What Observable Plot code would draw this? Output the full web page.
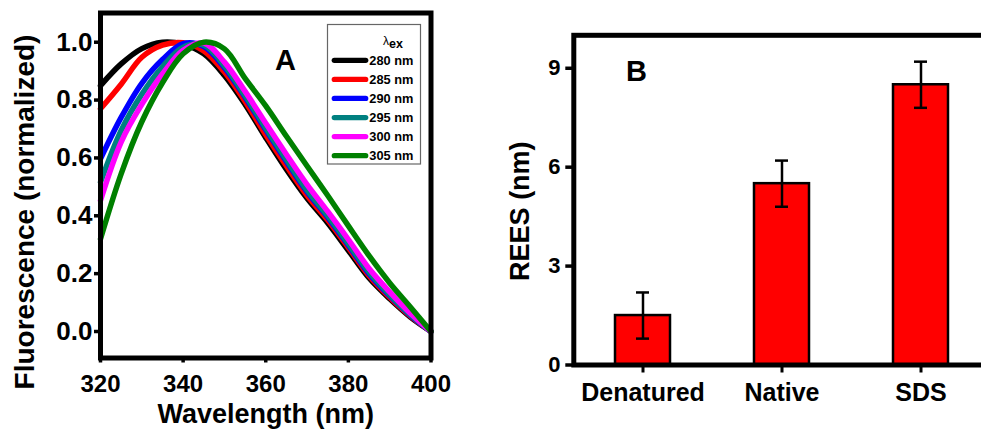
<!DOCTYPE html>
<html><head><meta charset="utf-8">
<script src="https://cdn.jsdelivr.net/npm/d3@7"></script>
<script src="https://cdn.jsdelivr.net/npm/@observablehq/plot@0.6"></script>
<style>
html,body{margin:0;padding:0;background:#fff;overflow:hidden;}
#wrap{position:relative;width:981px;height:430px;overflow:hidden;background:#fff;}
#wrap svg{position:absolute;top:0;max-width:none;background:transparent;}
</style></head><body><div id="wrap"></div>
<script>
// ---- Panel A data ----
const wavelengths = [320,325,330,335,340,345,350,355,360,365,370,375,380,385,390,395,400];
const exLabels = ["280 nm","285 nm","290 nm","295 nm","300 nm","305 nm"];
const exColors = ["#000000","#FF0000","#0000FF","#008080","#FF00FF","#008000"];
const ex280 = [0.85,0.925,0.978,1.0,0.993,0.96,0.885,0.785,0.67,0.56,0.46,0.375,0.28,0.185,0.113,0.05,0.0];
const ex285 = [0.77,0.855,0.948,0.99,0.998,0.97,0.897,0.795,0.68,0.572,0.47,0.385,0.29,0.193,0.118,0.053,0.0];
const ex290 = [0.597,0.74,0.858,0.94,0.995,0.985,0.912,0.81,0.697,0.588,0.483,0.395,0.298,0.2,0.123,0.056,0.0];
const ex295 = [0.516,0.695,0.82,0.915,0.983,0.99,0.918,0.815,0.703,0.594,0.488,0.4,0.303,0.205,0.127,0.058,0.0];
const ex300 = [0.453,0.655,0.785,0.89,0.972,0.997,0.931,0.83,0.72,0.612,0.508,0.415,0.318,0.218,0.137,0.063,0.0];
const ex305 = [0.32,0.545,0.725,0.86,0.96,1.0,0.977,0.875,0.78,0.675,0.572,0.47,0.365,0.262,0.168,0.085,0.0];
const xTicksA = [320,340,360,380,400];
const yTicksA = [0,0.2,0.4,0.6,0.8,1.0];

// ---- Panel B data ----
const categories = ["Denatured","Native","SDS"];
const reesValues = [1.5,5.5,8.5];
const reesErrors = [0.7,0.7,0.7];
const yTicksB = [0,3,6,9];

const seriesValues = [ex280,ex285,ex290,ex295,ex300,ex305];
const spectra = seriesValues.flatMap((vals,i)=>vals.map((v,j)=>({wl:wavelengths[j], f:v, ex:exLabels[i]})));
const reesData = categories.map((c,i)=>({cat:c, v:reesValues[i], e:reesErrors[i]}));

const font = "'Liberation Sans', Arial, Helvetica, sans-serif";
const wrap = document.getElementById("wrap");

const plotA = Plot.plot({
  width: 470, height: 430,
  marginLeft: 100, marginRight: 39.5, marginTop: 12.5, marginBottom: 72.5,
  style: {fontFamily: font, color: "black", background: "transparent", maxWidth: "none", overflow: "visible"},
  x: {domain: [320, 400]},
  y: {domain: [-0.0916, 1.101]},
  color: {domain: exLabels, range: exColors},
  marks: [
    Plot.line(spectra, {x: "wl", y: "f", stroke: "ex", z: "ex", strokeWidth: 5.5, curve: "catmull-rom"}),
    Plot.axisX({ticks: xTicksA, tickSize: 5, tickPadding: 11.5, strokeWidth: 3.5, fontSize: 24, fontWeight: "bold", label: null}),
    Plot.axisY({ticks: yTicksA, tickFormat: ".1f", tickSize: 6, tickPadding: 2, strokeWidth: 3.5, fontSize: 26, fontWeight: "bold", label: null}),
    Plot.frame({strokeWidth: 5}),
    Plot.text(["Wavelength (nm)"], {frameAnchor: "bottom", textAnchor: "middle", dy: 64.5, lineAnchor: "bottom", fontSize: 27, fontWeight: "bold"}),
    Plot.text(["Fluorescence (normalized)"], {frameAnchor: "left", textAnchor: "middle", rotate: -90, dx: -66.7, dy: 26.5, lineAnchor: "bottom", fontSize: 28, fontWeight: "bold"}),
    Plot.text(["A"], {frameAnchor: "top-left", textAnchor: "middle", dx: 185, dy: 56.5, lineAnchor: "bottom", fontSize: 29, fontWeight: "bold"})
  ]
});
plotA.style.left = "0px";
wrap.appendChild(plotA);

// legend for panel A
const leg = d3.create("svg").attr("width", 470).attr("height", 430)
  .style("left", "0px").style("font-family", font);
leg.append("rect").attr("x", 327.5).attr("y", 24.5).attr("width", 93).attr("height", 139.5)
  .attr("fill", "none").attr("stroke", "#666").attr("stroke-width", 1.2);
const hdr = leg.append("text").attr("x", 383).attr("y", 45).attr("font-size", 12).attr("fill", "black");
hdr.append("tspan").text("λ");
hdr.append("tspan").attr("dy", 2.5).attr("font-weight", "bold").attr("font-size", 12.5).text("ex");
exLabels.forEach((lab, i) => {
  const cy = 60.3 + i * 19.08;
  leg.append("line").attr("x1", 334.3).attr("x2", 365.7).attr("y1", cy).attr("y2", cy)
    .attr("stroke", exColors[i]).attr("stroke-width", 5.3).attr("stroke-linecap", "round");
  leg.append("text").attr("x", 369.3).attr("y", cy + 4.6).attr("font-size", 12.8)
    .attr("font-weight", "bold").attr("fill", "black").text(lab);
});
wrap.appendChild(leg.node());

const plotB = Plot.plot({
  width: 530, height: 430,
  marginLeft: 93.3, marginRight: 10, marginTop: 34.8, marginBottom: 65.5,
  style: {fontFamily: font, color: "black", background: "transparent", maxWidth: "none"},
  x: {type: "band", domain: categories, paddingInner: 0.603, paddingOuter: 0.334, align: 0.444},
  y: {domain: [0, 10]},
  marks: [
    Plot.barY(reesData, {x: "cat", y: "v", fill: "#FF0000", stroke: "black", strokeWidth: 2.5}),
    Plot.ruleX(reesData, {x: "cat", y1: d => d.v - d.e, y2: d => d.v + d.e, strokeWidth: 2.5}),
    Plot.tickY(reesData, {x: "cat", y: d => d.v + d.e, strokeWidth: 2.5, insetLeft: 21, insetRight: 21}),
    Plot.tickY(reesData, {x: "cat", y: d => d.v - d.e, strokeWidth: 2.5, insetLeft: 21, insetRight: 21}),
    Plot.axisX({tickSize: 8, tickPadding: 10.5, strokeWidth: 3, fontSize: 25, fontWeight: "bold", label: null}),
    Plot.axisY({ticks: yTicksB, tickSize: 8, tickPadding: 5.3, strokeWidth: 3.5, fontSize: 22, fontWeight: "bold", label: null}),
    Plot.frame({strokeWidth: 5}),
    Plot.text(["REES (nm)"], {frameAnchor: "left", textAnchor: "middle", rotate: -90, dx: -45, dy: 11, lineAnchor: "bottom", fontSize: 27, fontWeight: "bold"}),
    Plot.text(["B"], {frameAnchor: "top-left", textAnchor: "middle", dx: 62.7, dy: 45.2, lineAnchor: "bottom", fontSize: 29, fontWeight: "bold"})
  ]
});
plotB.style.left = "480px";
wrap.appendChild(plotB);
</script></body></html>
